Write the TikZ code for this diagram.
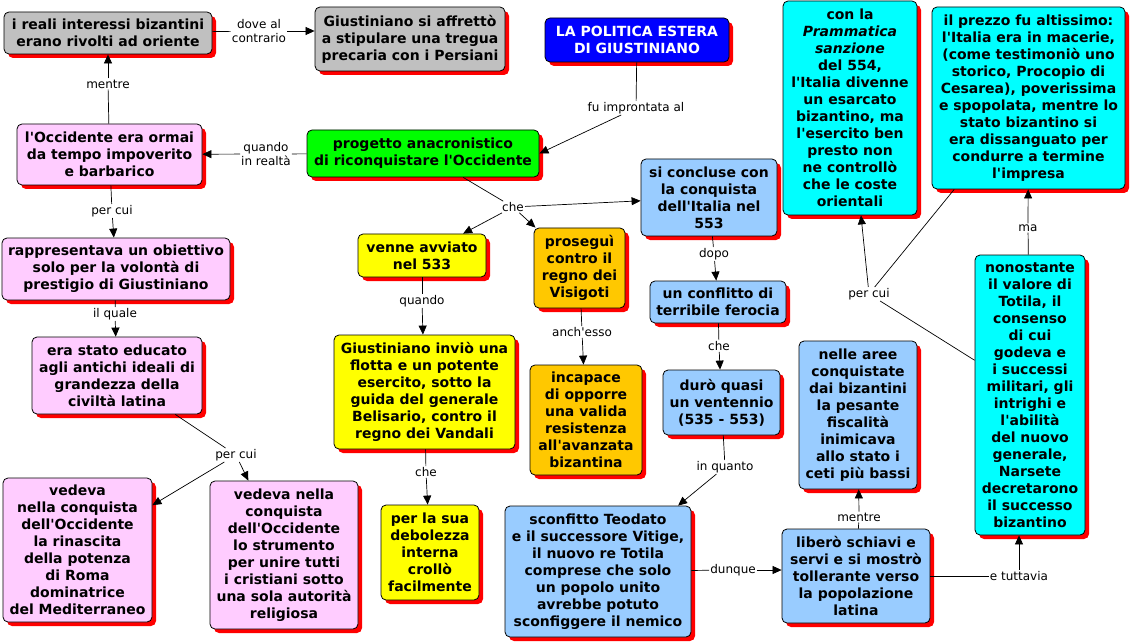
\documentclass[tikz,border=0pt]{standalone}
\usepackage{fontspec}
\setmainfont{DejaVu Sans}[Ligatures=TeXOff]
\usepackage{xcolor}
\usetikzlibrary{arrows.meta,shadows}
\definecolor{mapgray}{HTML}{C0C0C0}
\definecolor{mappink}{HTML}{FFCCFF}
\definecolor{mapgreen}{HTML}{00FF00}
\definecolor{mapblue}{HTML}{0000FF}
\definecolor{mapyellow}{HTML}{FFFF00}
\definecolor{maporange}{HTML}{FFC800}
\definecolor{mapsky}{HTML}{99CCFF}
\definecolor{mapcyan}{HTML}{00FFFF}
\definecolor{mapred}{HTML}{FF0000}

\begin{document}
\begin{tikzpicture}[x=1pt,y=-1pt,
  concept/.style={draw=black,line width=0.8pt,rounded corners=5pt,align=center,inner sep=0pt,
    font=\fontsize{14pt}{17pt}\selectfont\bfseries,
    drop shadow={shadow xshift=4pt,shadow yshift=-4pt,fill=mapred,opacity=1}},
  linklabel/.style={fill=white,inner sep=1pt,align=center,font=\fontsize{12pt}{14pt}\selectfont},
  link/.style={line width=0.7pt},
  >={Triangle[length=9pt,width=8pt]}]
  \useasboundingbox (0,0) rectangle (1131,644);
  % concetti
  \node[concept,fill=mapblue,text=white,minimum width=184pt,minimum height=44pt] (politica) at (637,40) {LA POLITICA ESTERA\\DI GIUSTINIANO};
  \node[concept,fill=mapgray,minimum width=208pt,minimum height=42pt] (interessi) at (108,33) {i reali interessi bizantini\\erano rivolti ad oriente};
  \node[concept,fill=mapgray,minimum width=190pt,minimum height=64pt] (tregua) at (410,39) {Giustiniano si affrettò\\a stipulare una tregua\\precaria con i Persiani};
  \node[concept,fill=mappink,minimum width=185pt,minimum height=61pt] (occidente) at (109.5,154.5) {l'Occidente era ormai\\da tempo impoverito\\e barbarico};
  \node[concept,fill=mapgreen,minimum width=232pt,minimum height=47pt] (progetto) at (423,153.5) {progetto anacronistico\\di riconquistare l'Occidente};
  \node[concept,fill=mappink,minimum width=228pt,minimum height=62pt] (obiettivo) at (116,269) {rappresentava un obiettivo\\solo per la volontà di\\prestigio di Giustiniano};
  \node[concept,fill=mappink,minimum width=170pt,minimum height=77pt] (educato) at (117,375.5) {era stato educato\\agli antichi ideali di\\grandezza della\\civiltà latina};
  \node[concept,fill=mappink,minimum width=149pt,minimum height=144pt] (rinascita) at (77.5,550) {vedeva\\nella conquista\\dell'Occidente\\la rinascita\\della potenza\\di Roma\\dominatrice\\del Mediterraneo};
  \node[concept,fill=mappink,minimum width=148pt,minimum height=148pt] (strumento) at (284,555) {vedeva nella\\conquista\\dell'Occidente\\lo strumento\\per unire tutti\\i cristiani sotto\\una sola autorità\\religiosa};
  \node[concept,fill=mapyellow,minimum width=128pt,minimum height=43pt] (avviato) at (422,255.5) {venne avviato\\nel 533};
  \node[concept,fill=mapyellow,minimum width=181pt,minimum height=114pt] (flotta) at (424.5,392) {Giustiniano inviò una\\flotta e un potente\\esercito, sotto la\\guida del generale\\Belisario, contro il\\regno dei Vandali};
  \node[concept,fill=mapyellow,minimum width=98pt,minimum height=95pt] (debolezza) at (430,552.5) {per la sua\\debolezza\\interna\\crollò\\facilmente};
  \node[concept,fill=maporange,minimum width=91pt,minimum height=80pt] (visigoti) at (579.5,268) {proseguì\\contro il\\regno dei\\Visigoti};
  \node[concept,fill=maporange,minimum width=112pt,minimum height=110pt] (incapace) at (586,420) {incapace\\di opporre\\una valida\\resistenza\\all'avanzata\\bizantina};
  \node[concept,fill=mapsky,minimum width=136pt,minimum height=77pt] (conquista) at (709,197.5) {si concluse con\\la conquista\\dell'Italia nel\\553};
  \node[concept,fill=mapsky,minimum width=136pt,minimum height=42pt] (conflitto) at (718,302) {un conflitto di\\terribile ferocia};
  \node[concept,fill=mapsky,minimum width=117pt,minimum height=65pt] (ventennio) at (721.5,402.5) {durò quasi\\un ventennio\\(535 - 553)};
  \node[concept,fill=mapsky,minimum width=186pt,minimum height=131pt] (totila) at (598,571.5) {sconfitto Teodato\\e il successore Vitige,\\il nuovo re Totila\\comprese che solo\\un popolo unito\\avrebbe potuto\\sconfiggere il nemico};
  \node[concept,fill=mapsky,minimum width=148pt,minimum height=94pt] (libero) at (856,576) {liberò schiavi e\\servi e si mostrò\\tollerante verso\\la popolazione\\latina};
  \node[concept,fill=mapsky,minimum width=118pt,minimum height=148pt] (fiscalita) at (858,415) {nelle aree\\conquistate\\dai bizantini\\la pesante\\fiscalità\\inimicava\\allo stato i\\ceti più bassi};
  \node[concept,fill=mapcyan,minimum width=134pt,minimum height=214pt] (prammatica) at (850,108) {con la\\\textit{Prammatica}\\\textit{sanzione}\\del 554,\\l'Italia divenne\\un esarcato\\bizantino, ma\\l'esercito ben\\presto non\\ne controllò\\che le coste\\orientali};
  \node[concept,fill=mapcyan,minimum width=193pt,minimum height=182pt] (prezzo) at (1028.5,98) {il prezzo fu altissimo:\\l'Italia era in macerie,\\(come testimoniò uno\\storico, Procopio di\\Cesarea), poverissima\\e spopolata, mentre lo\\stato bizantino si\\era dissanguato per\\condurre a termine\\l'impresa};
  \node[concept,fill=mapcyan,minimum width=110pt,minimum height=280pt] (narsete) at (1030,395) {nonostante\\il valore di\\Totila, il\\consenso\\di cui\\godeva e\\i successi\\militari, gli\\intrighi e\\l'abilità\\del nuovo\\generale,\\Narsete\\decretarono\\il successo\\bizantino};
  % parole legame
  \node[linklabel] (dove) at (259,31) {dove al\\contrario};
  \node[linklabel] (mentreA) at (108,84) {mentre};
  \node[linklabel] (realta) at (266,154) {quando\\in realtà};
  \node[linklabel] (percuiA) at (112,211) {per cui};
  \node[linklabel] (ilquale) at (115,314) {il quale};
  \node[linklabel] (percuiB) at (236,455) {per cui};
  \node[linklabel] (fuimpr) at (636,108) {fu improntata al};
  \node[linklabel] (che) at (513,207) {che};
  \node[linklabel] (quando) at (422,301) {quando};
  \node[linklabel] (cheA) at (426,472) {che};
  \node[linklabel] (anchesso) at (582,332) {anch'esso};
  \node[linklabel] (dopo) at (714,254) {dopo};
  \node[linklabel] (cheB) at (719,346) {che};
  \node[linklabel] (inquanto) at (725,467) {in quanto};
  \node[linklabel] (dunque) at (733,570) {dunque};
  \node[linklabel] (mentreB) at (859,517) {mentre};
  \node[linklabel] (tuttavia) at (1019,576) {e tuttavia};
  \node[linklabel] (ma) at (1028,228) {ma};
  \node[linklabel] (percuiC) at (869,294) {per cui};
  % collegamenti
  \foreach \a/\l in {politica/fuimpr,interessi/dove,progetto/realta,occidente/mentreA,occidente/percuiA,
    obiettivo/ilquale,educato/percuiB,progetto/che,avviato/quando,flotta/cheA,visigoti/anchesso,
    conquista/dopo,conflitto/cheB,ventennio/inquanto,totila/dunque,libero/mentreB,libero/tuttavia,
    narsete/ma,narsete/percuiC}
    \draw[link] (\a) -- (\l);
  \foreach \l/\b in {realta/occidente,mentreA/interessi,percuiA/obiettivo,ilquale/educato,
    percuiB/rinascita,percuiB/strumento,che/avviato,che/visigoti,che/conquista,quando/flotta,
    cheA/debolezza,anchesso/incapace,dopo/conflitto,cheB/ventennio,inquanto/totila,
    mentreB/fiscalita,ma/prezzo,percuiC/prammatica}
    \draw[link,->] (\l) -- (\b);
  \draw[link,->] (fuimpr) -- (progetto.east);
  \draw[link,->] (dove) -- (dove -| tregua.west);
  \draw[link,->] (dunque) -- (dunque -| libero.west);
  \draw[link,->] (tuttavia) -- (tuttavia |- narsete.south);
  \draw[link] (percuiC) -- (prezzo);
\end{tikzpicture}
\end{document}
